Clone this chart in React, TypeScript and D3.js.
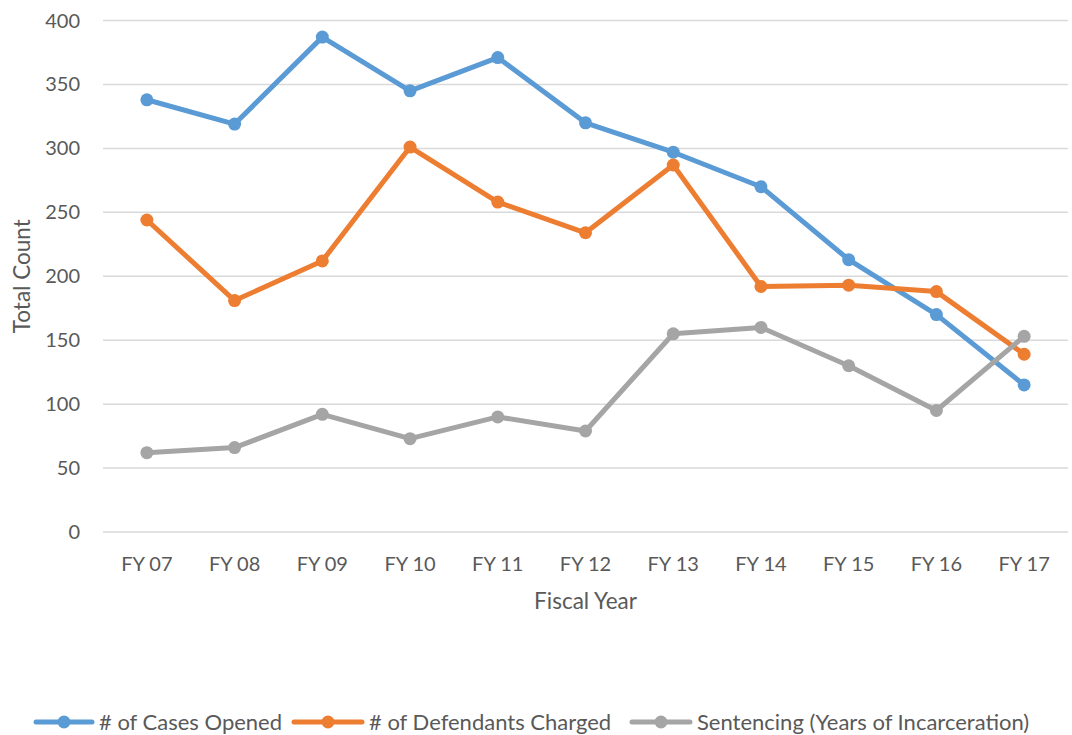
import React from 'react';
import * as d3 from 'd3';

const years = ['FY 07', 'FY 08', 'FY 09', 'FY 10', 'FY 11', 'FY 12', 'FY 13', 'FY 14', 'FY 15', 'FY 16', 'FY 17'];
const casesOpened = [338, 319, 387, 345, 371, 320, 297, 270, 213, 170, 115];
const defendantsCharged = [244, 181, 212, 301, 258, 234, 287, 192, 193, 188, 139];
const sentencing = [62, 66, 92, 73, 90, 79, 155, 160, 130, 95, 153];
const yTicks = [0, 50, 100, 150, 200, 250, 300, 350, 400];

const series = [
	{ name: '# of Cases Opened', values: casesOpened, color: '#5b9bd5' },
	{ name: '# of Defendants Charged', values: defendantsCharged, color: '#ed7d31' },
	{ name: 'Sentencing (Years of Incarceration)', values: sentencing, color: '#a5a5a5' },
];

const font = 'Lato, "Open Sans", sans-serif';

export default function App() {
	const width = 1072, height = 735;
	const left = 103, right = 1068, top = 20.5, bottom = 532;

	const x = d3.scaleBand<string>().domain(years).range([left, right]);
	const y = d3.scaleLinear().domain([0, 400]).range([bottom, top]);
	const cx = (d: string) => (x(d) as number) + x.bandwidth() / 2;

	const line = d3.line<number>()
		.x((d, i) => cx(years[i]))
		.y(d => y(d));

	// legend item positions (line start, text start)
	const legendPos = [[36, 99], [294, 369], [632, 697]];

	return (
		<div style={{ position: 'absolute', left: 0, top: 0 }}>
			<svg width={width} height={height} style={{ display: 'block', background: '#fff' }}>
				<g>
					{yTicks.map(t => (
						<g key={t}>
							<line x1={left} x2={right} y1={y(t)} y2={y(t)} stroke="#d9d9d9" strokeWidth={1.5} />
							<text x={80} y={y(t)} dy="0.35em" textAnchor="end" fontFamily={font} fontSize={20} fill="#595959">{t}</text>
						</g>
					))}
					{years.map(yr => (
						<text key={yr} x={cx(yr)} y={564} dy="0.35em" textAnchor="middle" fontFamily={font} fontSize={20} fill="#595959">{yr}</text>
					))}
				</g>
				<text transform={`translate(22,${(top + bottom) / 2}) rotate(-90)`} dy="0.35em" textAnchor="middle" fontFamily={font} fontSize={22.5} fill="#595959">Total Count</text>
				<text x={(left + right) / 2} y={601} dy="0.35em" textAnchor="middle" fontFamily={font} fontSize={22.5} fill="#595959">Fiscal Year</text>

				{series.map(s => (
					<g key={s.name}>
						<path d={line(s.values) as string} fill="none" stroke={s.color} strokeWidth={5} strokeLinejoin="round" strokeLinecap="round" />
						{s.values.map((v, i) => (
							<circle key={i} cx={cx(years[i])} cy={y(v)} r={6.5} fill={s.color} />
						))}
					</g>
				))}

				{series.map((s, i) => (
					<g key={'lg' + s.name}>
						<line x1={legendPos[i][0]} x2={legendPos[i][1] - 7} y1={722} y2={722} stroke={s.color} strokeWidth={5} strokeLinecap="round" />
						<circle cx={(legendPos[i][0] + legendPos[i][1] - 7) / 2} cy={722} r={6.5} fill={s.color} />
						<text x={legendPos[i][1]} y={722} dy="0.35em" fontFamily={font} fontSize={22} fill="#595959">{s.name}</text>
					</g>
				))}
			</svg>
		</div>
	);
}
